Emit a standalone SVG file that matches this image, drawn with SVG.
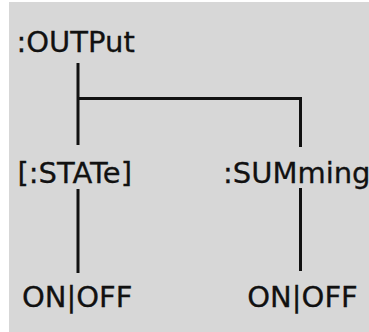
<svg xmlns="http://www.w3.org/2000/svg" width="369" height="332" viewBox="0 0 369 332">
<style>
text{font-family:"DejaVu Sans",Verdana,sans-serif;font-size:29px;fill:#111;stroke:#111;stroke-width:0.3}
.c{stroke:#111;stroke-width:3;fill:none}
</style>
<rect x="0" y="0" width="369" height="332" fill="#ffffff"/>
<rect x="9" y="2" width="360" height="330" fill="#d7d7d7"/>
<g id="connectors">
<line class="c" x1="78" y1="63" x2="78" y2="145"/>
<line class="c" x1="78" y1="98.5" x2="301" y2="98.5"/>
<line class="c" x1="300.5" y1="97" x2="300.5" y2="147"/>
<line class="c" x1="78" y1="189" x2="78" y2="273"/>
<line class="c" x1="300.5" y1="188" x2="300.5" y2="271"/>
</g>
<g id="output"><text x="16.5" y="52">:OUTPut</text></g>
<g id="state"><text x="17.5" y="182.7">[:STATe]</text></g>
<g id="summing"><text x="223" y="182.7">:SUMming</text></g>
<g id="state-onoff"><text x="22" y="307.3">ON|OFF</text></g>
<g id="summing-onoff"><text x="247.3" y="306.7">ON|OFF</text></g>
</svg>
